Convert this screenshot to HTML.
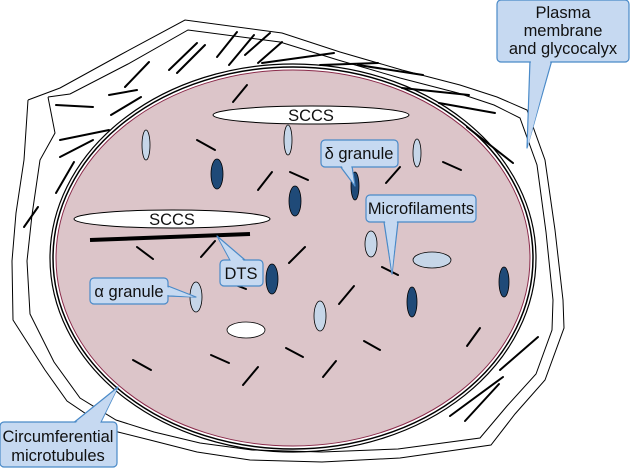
<!DOCTYPE html>
<html><head><meta charset="utf-8"><style>
html,body{margin:0;padding:0;background:#fff;}
svg{display:block;}
text{font-family:"Liberation Sans",sans-serif;font-size:16.5px;fill:#111;}
</style></head><body>
<svg width="631" height="468" viewBox="0 0 631 468" xmlns="http://www.w3.org/2000/svg">
<!-- membrane -->
<g fill="none" stroke="#000" stroke-width="1">
<polyline points="28,100 60,88 120,55 185,20 282,33 340,52 402,70 460,85 497,97 527,110 545,160 555,230 563,300 564,328 545,380 515,414 491,445 400,458 322,462 250,460 197,452 150,440 110,430 67,401 45,370 13,320 12,261 16,213 24,160 28,100"/>
<polyline points="48,97 70,94 128,64 188,30 280,42 338,60 400,78 458,93 494,105 520,118 537,165 546,232 553,300 552,330 536,374 507,406 480,438 398,449 322,452 252,450 200,443 154,432 116,420 80,398 54,362 30,314 27,261 32,215 40,160 55,133 48,97"/>
</g>
<!-- cytoplasm lines -->
<g stroke="#000" stroke-width="2" stroke-linecap="round">
<line x1="56" y1="105" x2="93" y2="107"/><line x1="109" y1="95" x2="137" y2="90"/>
<line x1="111" y1="115" x2="141" y2="97"/><line x1="125" y1="87" x2="149" y2="62"/>
<line x1="169" y1="70" x2="197" y2="43"/><line x1="177" y1="73" x2="205" y2="45"/>
<line x1="217" y1="57" x2="237" y2="32"/><line x1="229" y1="65" x2="254" y2="35"/>
<line x1="245" y1="55" x2="270" y2="33"/><line x1="258" y1="63" x2="282" y2="42"/>
<line x1="262" y1="63" x2="334" y2="53"/><line x1="320" y1="65" x2="378" y2="63"/>
<line x1="358" y1="65" x2="423" y2="75"/><line x1="402" y1="88" x2="469" y2="95"/>
<line x1="439" y1="103" x2="495" y2="113"/><line x1="467" y1="127" x2="513" y2="163"/>
<line x1="60" y1="140" x2="109" y2="130"/><line x1="60" y1="157" x2="93" y2="140"/>
<line x1="56" y1="193" x2="74" y2="162"/><line x1="24" y1="227" x2="38" y2="207"/>
<line x1="500" y1="370" x2="538" y2="337"/><line x1="450" y1="416" x2="503" y2="377"/>
<line x1="465" y1="421" x2="499" y2="384"/>
</g>
<!-- cell body -->
<ellipse cx="293" cy="258" rx="243" ry="194" fill="none" stroke="#000" stroke-width="1.2"/>
<ellipse cx="293" cy="258" rx="240" ry="191" fill="none" stroke="#000" stroke-width="1.5"/>
<ellipse cx="293" cy="258" rx="237" ry="188" fill="#dcc5c9" stroke="#8a2a4a" stroke-width="1"/>
<g stroke="#000" stroke-width="2" stroke-linecap="round">
<line x1="233" y1="102" x2="247" y2="85"/><line x1="197" y1="140" x2="215" y2="150"/>
<line x1="258" y1="190" x2="272" y2="172"/><line x1="290" y1="172" x2="308" y2="180"/>
<line x1="386" y1="183" x2="400" y2="167"/><line x1="443" y1="162" x2="461" y2="170"/>
<line x1="137" y1="247" x2="153" y2="259"/><line x1="201" y1="257" x2="215" y2="241"/>
<line x1="233" y1="284" x2="246" y2="289"/><line x1="289" y1="263" x2="305" y2="247"/>
<line x1="339" y1="304" x2="354" y2="286"/><line x1="382" y1="267" x2="398" y2="275"/>
<line x1="467" y1="346" x2="480" y2="328"/><line x1="133" y1="360" x2="151" y2="370"/>
<line x1="211" y1="355" x2="229" y2="363"/><line x1="286" y1="348" x2="303" y2="357"/>
<line x1="364" y1="341" x2="380" y2="350"/><line x1="243" y1="385" x2="258" y2="367"/>
<line x1="323" y1="377" x2="336" y2="361"/>
</g>
<line x1="90" y1="240" x2="250" y2="234" stroke="#000" stroke-width="4"/>
<!-- SCCS -->
<ellipse cx="311" cy="115" rx="98" ry="9" fill="#fff" stroke="#000"/>
<text x="311" y="121" text-anchor="middle">SCCS</text>
<ellipse cx="172" cy="219" rx="98" ry="9" fill="#fff" stroke="#000"/>
<text x="172" y="225" text-anchor="middle">SCCS</text>
<!-- granules -->
<g stroke="#000" stroke-width="0.8">
<ellipse cx="146" cy="145" rx="4" ry="15" fill="#c6d6e8"/>
<ellipse cx="288" cy="140" rx="4" ry="15" fill="#c6d6e8"/>
<ellipse cx="417" cy="153" rx="4" ry="14" fill="#c6d6e8"/>
<ellipse cx="371" cy="244" rx="6" ry="13" fill="#c6d6e8"/>
<ellipse cx="432" cy="260" rx="19" ry="8" fill="#c6d6e8"/>
<ellipse cx="196" cy="297" rx="6" ry="15" fill="#c6d6e8"/>
<ellipse cx="320" cy="316" rx="6" ry="15" fill="#c6d6e8"/>
<ellipse cx="217" cy="174" rx="6" ry="15" fill="#1f4a78"/>
<ellipse cx="295" cy="201" rx="6" ry="15" fill="#1f4a78"/>
<ellipse cx="355" cy="186" rx="4" ry="14" fill="#1f4a78"/>
<ellipse cx="272" cy="279" rx="6" ry="15" fill="#1f4a78"/>
<ellipse cx="412" cy="302" rx="5" ry="15" fill="#1f4a78"/>
<ellipse cx="504" cy="282" rx="5" ry="15" fill="#1f4a78"/>
<ellipse cx="246" cy="330" rx="19" ry="8" fill="#fff"/>
</g>
<!-- callouts -->
<g fill="#c6d9f1" stroke="#4a8ac8" stroke-width="1.2" stroke-linejoin="round">
<polygon points="530,60 527,148 552,60"/>
<rect x="497" y="0" width="132" height="62" rx="4"/>
<polygon points="531,59 528,146 551,59" stroke="none"/>

<polygon points="72,424 118,387 100,424"/>
<rect x="0" y="422" width="117" height="45" rx="4"/>
<polygon points="73,425 117,389 99,425" stroke="none"/>

<polygon points="340,166 355,186 352,166"/>
<rect x="321" y="140" width="77" height="27" rx="4"/>
<polygon points="341,165 354,184 351,165" stroke="none"/>

<polygon points="384,222 392,274 398,222"/>
<rect x="366" y="195" width="110" height="27" rx="4"/>
<polygon points="385,221 392,272 397,221" stroke="none"/>

<polygon points="230,260 217,236 245,260"/>
<rect x="220" y="260" width="43" height="26" rx="4"/>
<polygon points="231,261 219,239 244,261" stroke="none"/>

<polygon points="168,286 196,297 168,296"/>
<rect x="90" y="278" width="78" height="26" rx="4"/>
<polygon points="167,287 194,297 167,295" stroke="none"/>
</g>
<text x="563" y="18" text-anchor="middle">Plasma</text>
<text x="563" y="36" text-anchor="middle">membrane</text>
<text x="563" y="54" text-anchor="middle">and glycocalyx</text>
<text x="58" y="442" text-anchor="middle">Circumferential</text>
<text x="58" y="461" text-anchor="middle">microtubules</text>
<text x="359" y="159" text-anchor="middle">δ granule</text>
<text x="421" y="214" text-anchor="middle">Microfilaments</text>
<text x="241" y="279" text-anchor="middle">DTS</text>
<text x="129" y="297" text-anchor="middle">α granule</text>
</svg>
</body></html>
